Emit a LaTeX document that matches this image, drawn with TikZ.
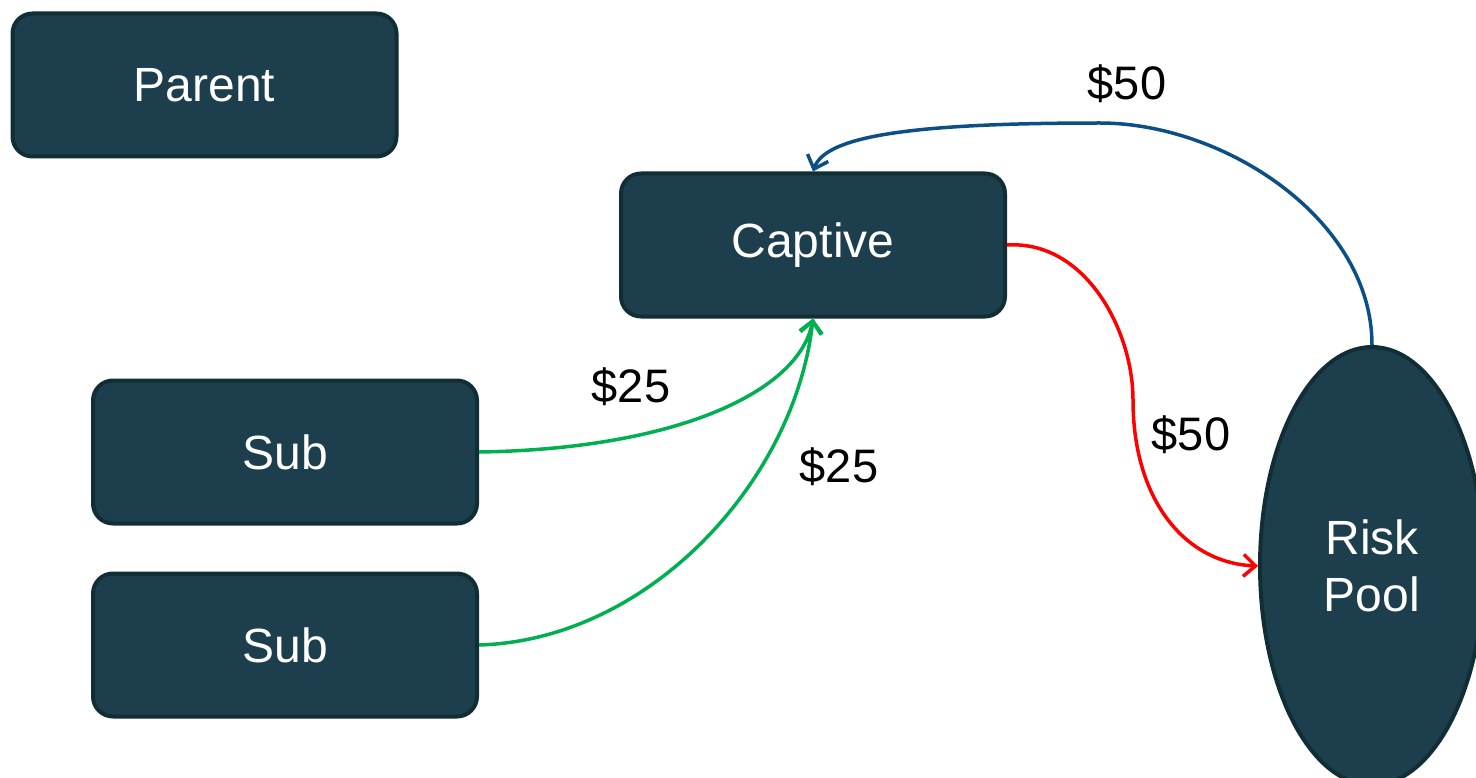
\documentclass[tikz,border=0pt]{standalone}
\usepackage{fontspec}
\setmainfont{Liberation Sans}
\usepackage{tikz}
\usetikzlibrary{shapes,shapes.geometric}
\usetikzlibrary{arrows.meta}
\definecolor{hopxanh}{HTML}{1D3F4D}
\definecolor{vienhop}{HTML}{112D36}
\definecolor{tienvao}{HTML}{00B050}
\definecolor{tienra}{HTML}{FF0000}
\definecolor{tienve}{HTML}{0B4F86}

\begin{document}
\begin{tikzpicture}[x=1pt, y=-1pt,
		hop/.style={draw=vienhop, fill=hopxanh, line width=4pt, rounded corners=20pt,
			minimum width=384pt, minimum height=143pt, text=white,
			font=\fontsize{48}{57}\selectfont},
		quy/.style={ellipse, draw=vienhop, fill=hopxanh, line width=4pt,
			minimum width=224pt, minimum height=438pt, text=white, align=center,
			font=\fontsize{48}{57}\selectfont},
		dong/.style={line width=3.5pt, -{Straight Barb[length=12pt, width=22pt, line width=3.5pt]}},
		nhan/.style={font=\fontsize{47}{56}\selectfont}]
		\useasboundingbox (0,0) rectangle (1476,778);
		\clip (0,0) rectangle (1476,778);
		% cac hop
		\node[hop] (parent) at (204.5,85) {Parent};
		\node[hop] (captive) at (813,245) {Captive};
		\node[hop] (sub1) at (285,452) {Sub};
		\node[hop] (sub2) at (285,645) {Sub};
		\node[quy] (pool) at (1372,566) {Risk\\Pool};
		% dong tien
		\draw[dong, tienvao] (sub1.east) .. controls (680,449) and (800,390) .. (captive.south);
		\draw[dong, tienvao] (sub2.east) .. controls (650,640) and (795,480) .. (captive.south);
		\draw[dong, tienra] (captive.east) .. controls (1085,240) and (1133,330) .. (1133,400)
			.. controls (1133,500) and (1185,563) .. (pool.west);
		\draw[dong, tienve] (pool.north) .. controls (1372,220) and (1225,123) .. (1100,123)
			.. controls (900,123) and (825,138) .. (captive.north);
		% so tien
		\node[nhan] (l1) at (631,387) {\$25};
		\node[nhan] (l2) at (839,467) {\$25};
		\node[nhan] (l3) at (1191,435) {\$50};
		\node[nhan] (l4) at (1127,84) {\$50};
	\end{tikzpicture}
\end{document}
